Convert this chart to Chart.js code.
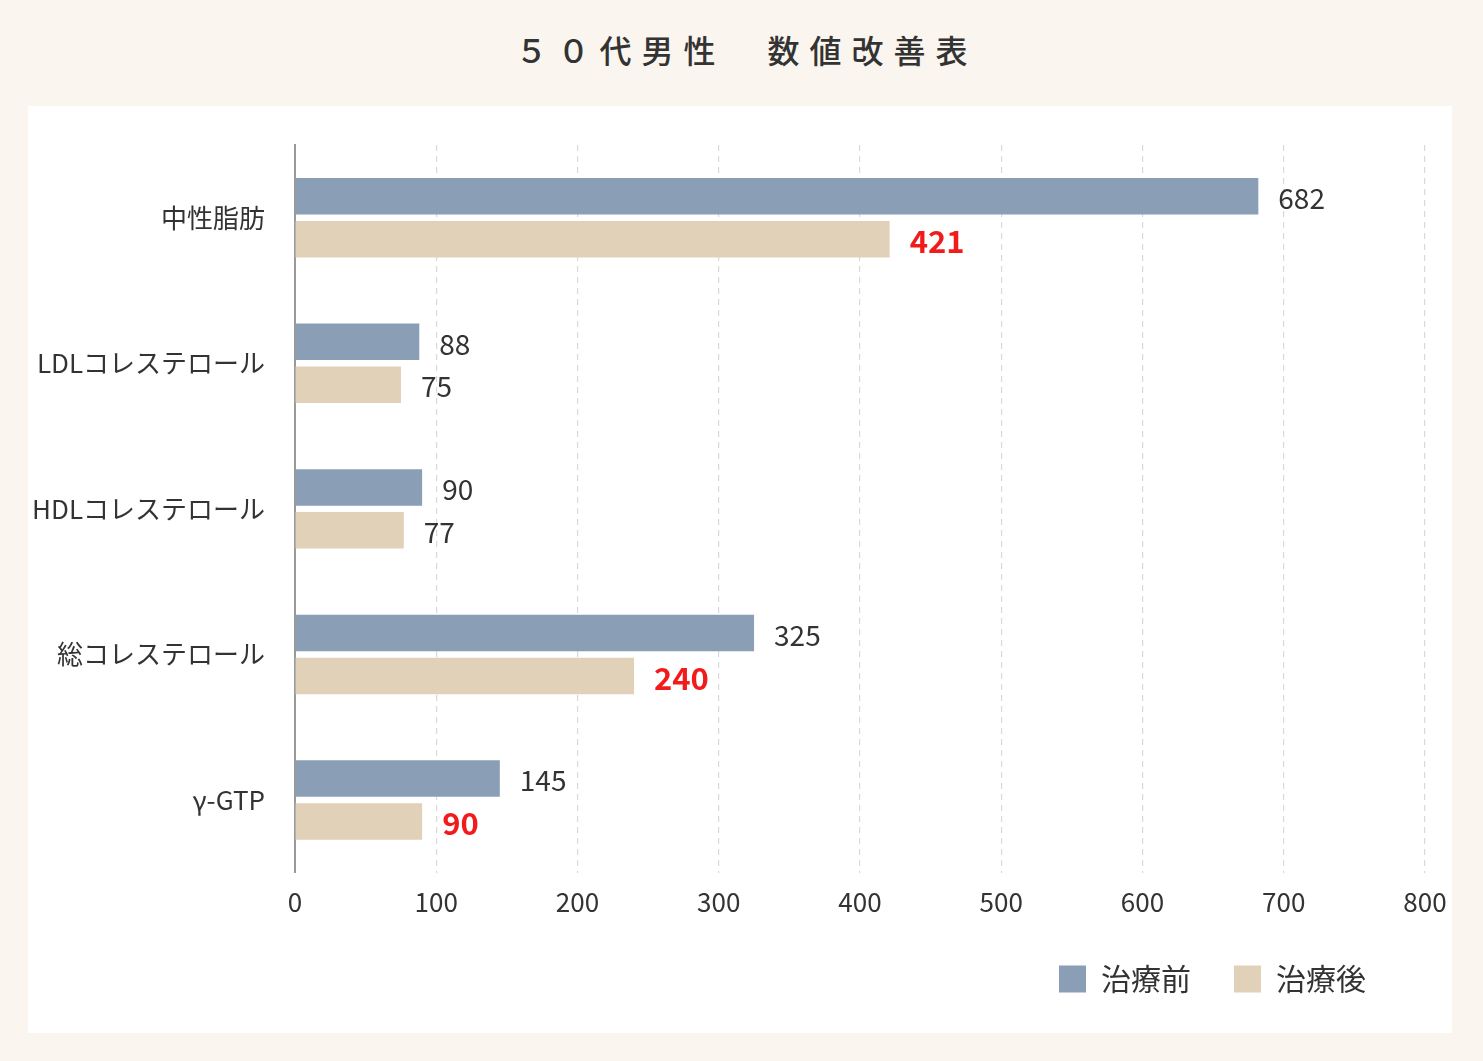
<!DOCTYPE html>
<html>
<head>
<meta charset="utf-8">
<script src="https://cdn.jsdelivr.net/npm/chart.js@4.4.1/dist/chart.umd.min.js"></script>
<style>
  html, body { margin:0; padding:0; }
  body { width:1483px; height:1061px; background:#FAF6EF; position:relative; overflow:hidden;
         font-family:"Noto Sans CJK JP","Noto Sans",sans-serif; }
  #title { position:absolute; left:0; top:21px; width:1483px; text-align:center; margin:0;
           font-size:32px; font-weight:500; letter-spacing:10px; color:#333; line-height:56px; padding-left:10px; box-sizing:border-box; }
  #panel { position:absolute; left:28px; top:106px; width:1424px; height:927px; background:#FFFFFF; }
  canvas { display:block; }
</style>
</head>
<body>
<h1 id="title">５０代男性　数値改善表</h1>
<div id="panel"><canvas id="c" width="1424" height="927"></canvas></div>
<script>
const categories = ["中性脂肪", "LDLコレステロール", "HDLコレステロール", "総コレステロール", "γ-GTP"];
const seriesNames = ["治療前", "治療後"];
const beforeValues = [682, 88, 90, 325, 145];
const afterValues = [421, 75, 77, 240, 90];
const afterHighlight = [true, false, false, true, true];
const xTicks = [0, 100, 200, 300, 400, 500, 600, 700, 800];

const FONT = '"Noto Sans CJK JP","Noto Sans",sans-serif';

const valueLabels = {
  id: 'valueLabels',
  afterDatasetsDraw(chart) {
    const ctx = chart.ctx;
    ctx.save();
    ctx.textBaseline = 'middle';
    ctx.textAlign = 'left';
    chart.data.datasets.forEach((ds, di) => {
      const meta = chart.getDatasetMeta(di);
      meta.data.forEach((bar, i) => {
        const hl = di === 1 && afterHighlight[i];
        ctx.fillStyle = hl ? '#F21B1B' : '#333333';
        ctx.font = (hl ? 'bold 31px ' : '28px ') + FONT;
        ctx.fillText(String(ds.data[i]), bar.x + 20, bar.y + 2);
      });
    });
    ctx.restore();
  }
};

const legendShift = {
  id: 'legendShift',
  afterLayout(chart) {
    if (chart.legend) { chart.legend.right -= 16; }
  }
};

new Chart(document.getElementById('c'), {
  type: 'bar',
  data: {
    labels: categories,
    datasets: [
      { label: seriesNames[0], data: beforeValues, backgroundColor: '#8A9EB6',
        categoryPercentage: 0.59, barPercentage: 0.85 },
      { label: seriesNames[1], data: afterValues, backgroundColor: '#E1D1B9',
        categoryPercentage: 0.59, barPercentage: 0.85 }
    ]
  },
  options: {
    indexAxis: 'y',
    responsive: false,
    animation: false,
    layout: { padding: { top: 39, right: 27, bottom: 29, left: 0 } },
    plugins: {
      legend: {
        position: 'bottom',
        align: 'end',
        labels: {
          boxWidth: 27, boxHeight: 27, padding: 43,
          font: { family: FONT, size: 30 }, color: '#333'
        }
      },
      tooltip: { enabled: false }
    },
    scales: {
      x: {
        min: 0, max: 800,
        afterBuildTicks(scale) { scale.ticks = xTicks.map(v => ({ value: v })); },
        afterFit(scale) { scale.height -= 11; scale.paddingRight = 0; scale.paddingLeft = 0; },
        ticks: { font: { family: FONT, size: 26 }, color: '#333', padding: 14, maxRotation: 0 },
        grid: {
          drawTicks: false,
          color: (c) => (c.tick && c.tick.value === 0) ? 'rgba(0,0,0,0)' : '#D9D9D9',
          lineWidth: 1.2
        },
        border: { display: false, dash: [6, 5] }
      },
      y: {
        afterFit(scale) { scale.width = 267; scale.paddingTop = 0; scale.paddingBottom = 0; },
        ticks: { font: { family: FONT, size: 26 }, color: '#333', padding: 30 },
        grid: { display: false, drawTicks: false },
        border: { display: true, color: '#9A9A9A', width: 2 }
      }
    }
  },
  plugins: [valueLabels, legendShift]
});
</script>
</body>
</html>
